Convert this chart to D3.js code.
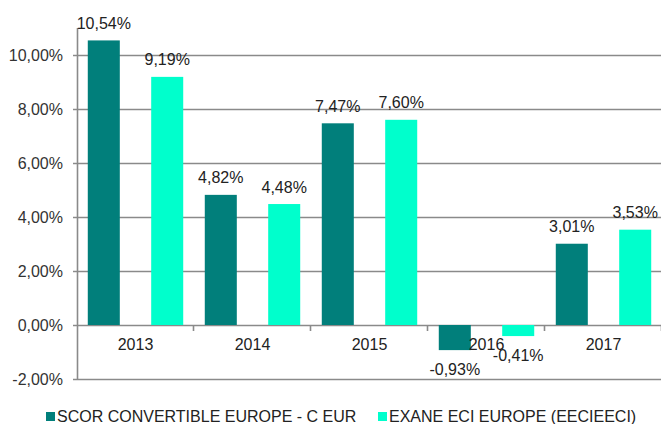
<html>
<head>
<meta charset="utf-8">
<script src="https://d3js.org/d3.v7.min.js"></script>
<style>
  body { margin: 0; background: #fff; }
  text { font-family: "Liberation Sans", Arial, sans-serif; }
</style>
</head>
<body>
<div id="chart"></div>
<script>
var years = ["2013", "2014", "2015", "2016", "2017"];
var seriesNames = ["SCOR CONVERTIBLE EUROPE - C EUR", "EXANE ECI EUROPE (EECIEECI)"];
var scorValues = [10.54, 4.82, 7.47, -0.93, 3.01];
var exaneValues = [9.19, 4.48, 7.60, -0.41, 3.53];
var yTicks = [-2, 0, 2, 4, 6, 8, 10];
var colors = ["#017f7b", "#00ffcc"];

var W = 661, H = 424;
var plotL = 77, plotR = 662, plotT = 28, plotB = 379;

var svg = d3.select("#chart").append("svg")
    .attr("width", W).attr("height", H);

var x = d3.scaleBand().domain(years).range([plotL, plotR]).padding(0);
var xs = d3.scaleBand().domain([0, 1]).range([0, x.bandwidth()])
    .paddingInner(0.495).paddingOuter(0.17);
var y = d3.scaleLinear().domain([-2, 11]).range([plotB, plotT]);

var fmt = function(v) { return v.toFixed(2).replace(".", ",") + "%"; };

// gridlines
svg.append("g").selectAll("line").data(yTicks).enter().append("line")
    .attr("x1", plotL - 4).attr("x2", W)
    .attr("y1", function(d) { return Math.round(y(d)) + 0.5; })
    .attr("y2", function(d) { return Math.round(y(d)) + 0.5; })
    .attr("stroke", "#8a8a8a").attr("stroke-width", 1.6);

// y axis line
svg.append("line")
    .attr("x1", plotL + 0.5).attr("x2", plotL + 0.5)
    .attr("y1", plotT).attr("y2", plotB)
    .attr("stroke", "#8a8a8a").attr("stroke-width", 1.6);

// y labels
svg.append("g").selectAll("text").data(yTicks).enter().append("text")
    .attr("x", plotL - 14).attr("y", function(d) { return y(d) + 5.5; })
    .attr("text-anchor", "end")
    .style("font-size", "16px").attr("fill", "#333")
    .text(fmt);

// category tick marks on zero line
svg.append("g").selectAll("line").data(years).enter().append("line")
    .attr("x1", function(d) { return Math.round(x(d) + x.step()) - 0.5; })
    .attr("x2", function(d) { return Math.round(x(d) + x.step()) - 0.5; })
    .attr("y1", y(0)).attr("y2", y(0) + 6)
    .attr("stroke", "#8a8a8a").attr("stroke-width", 1.6);

var data = [];
years.forEach(function(yr, i) {
  data.push({ year: yr, s: 0, v: scorValues[i] });
  data.push({ year: yr, s: 1, v: exaneValues[i] });
});

// bars
svg.append("g").selectAll("rect").data(data).enter().append("rect")
    .attr("x", function(d) { return x(d.year) + xs(d.s); })
    .attr("width", xs.bandwidth())
    .attr("y", function(d) { return y(Math.max(0, d.v)); })
    .attr("height", function(d) { return Math.abs(y(d.v) - y(0)); })
    .attr("fill", function(d) { return colors[d.s]; });

// x labels
svg.append("g").selectAll("text").data(years).enter().append("text")
    .attr("x", function(d) { return x(d) + x.bandwidth() / 2; })
    .attr("y", y(0) + 24.5)
    .attr("text-anchor", "middle")
    .style("font-size", "16px").attr("fill", "#222")
    .text(function(d) { return d; });

// value labels
svg.append("g").selectAll("text").data(data).enter().append("text")
    .attr("x", function(d) { return x(d.year) + xs(d.s) + xs.bandwidth() / 2; })
    .attr("y", function(d) { return d.v >= 0 ? y(d.v) - 11.5 : y(d.v) + 24.5; })
    .attr("text-anchor", "middle")
    .style("font-size", "16px").attr("fill", "#222")
    .text(function(d) { return fmt(d.v); });

// legend
var legendX = [46, 378];
var lg = svg.append("g").selectAll("g").data(seriesNames).enter().append("g")
    .attr("transform", function(d, i) { return "translate(" + legendX[i] + ",412)"; });
lg.append("rect").attr("width", 9).attr("height", 9)
    .attr("fill", function(d, i) { return colors[i]; });
lg.append("text").attr("x", 11).attr("y", 9.5)
    .style("font-size", "16px").attr("fill", "#222")
    .text(function(d) { return d; });
</script>
</body>
</html>
